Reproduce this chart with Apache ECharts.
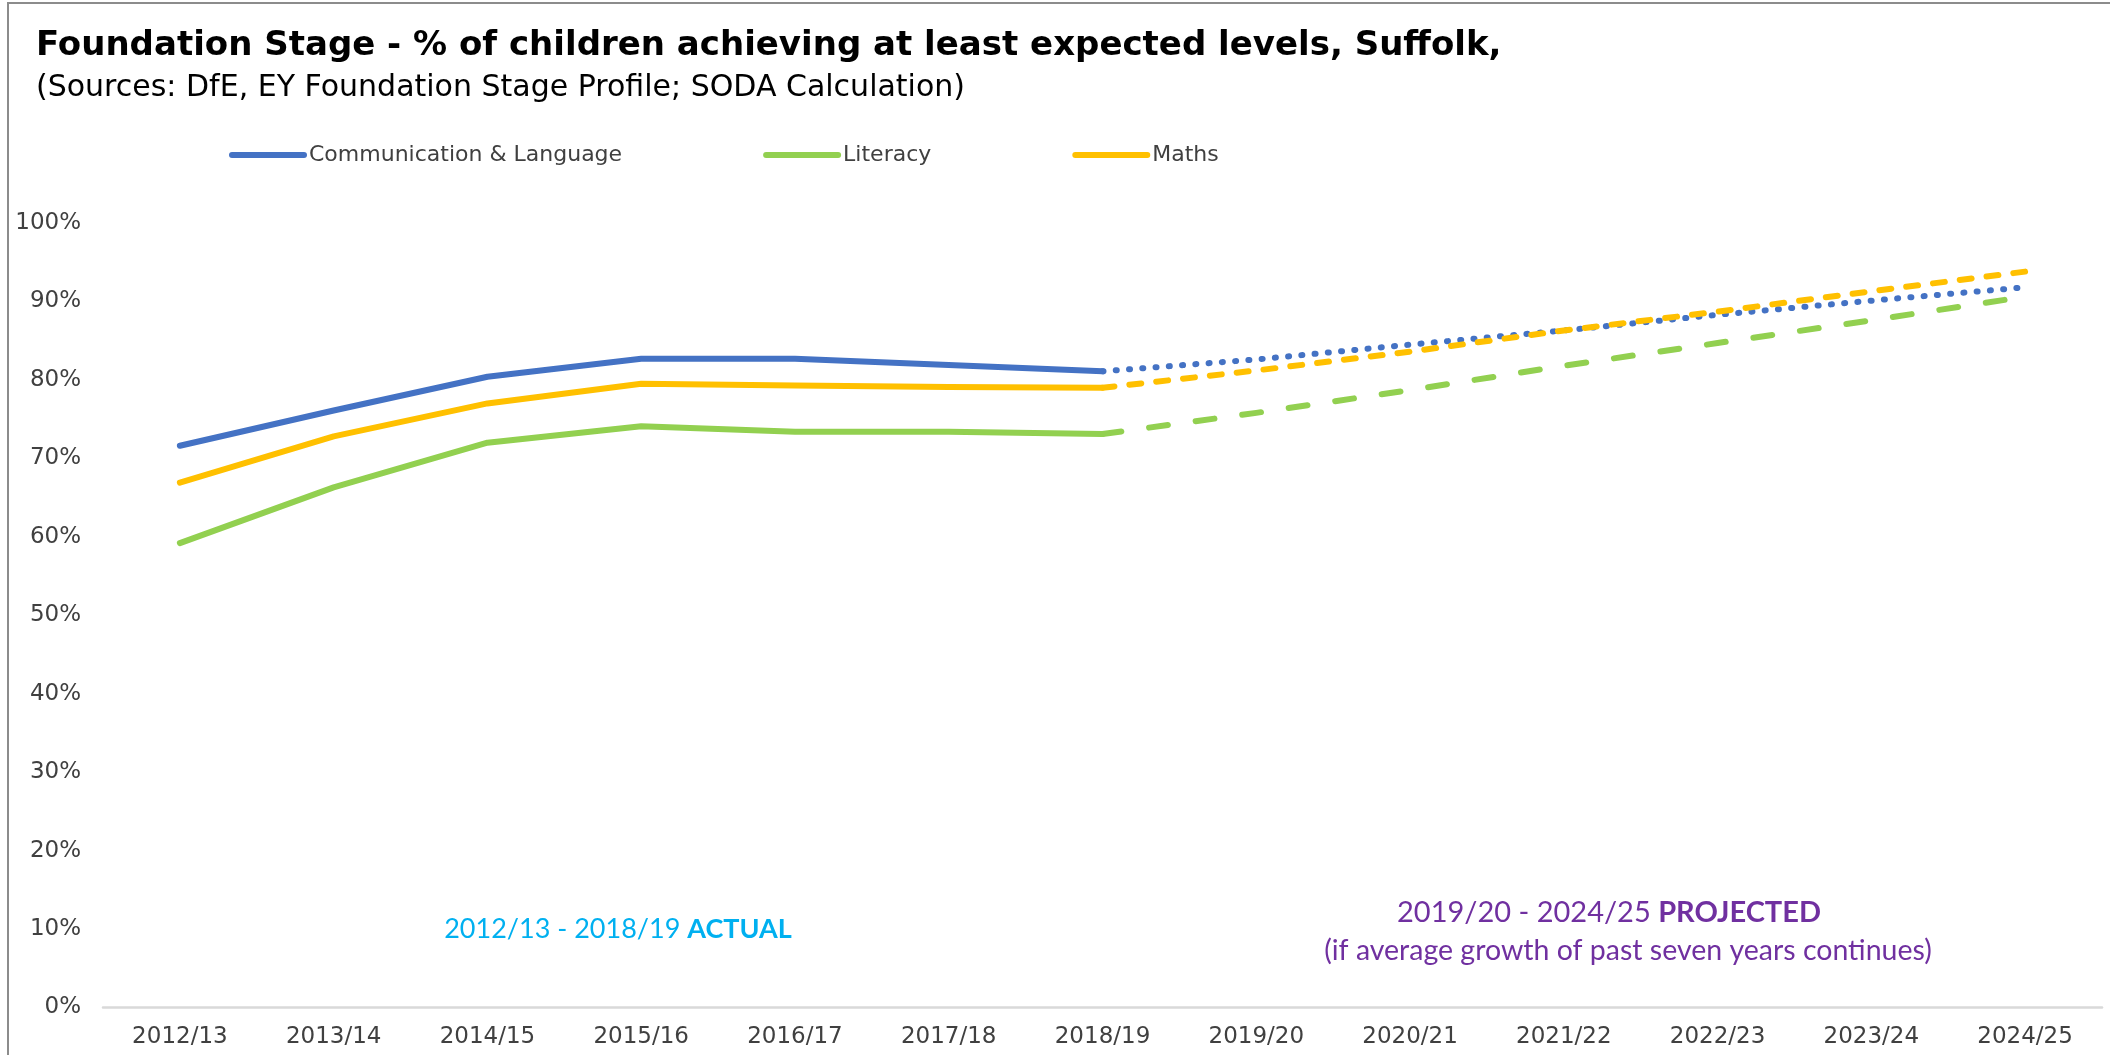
<!DOCTYPE html>
<html>
<head>
<meta charset="utf-8">
<title>Foundation Stage - Suffolk</title>
<script src="https://cdn.jsdelivr.net/npm/echarts@6/dist/echarts.min.js"></script>
<style>
  html, body { margin: 0; padding: 0; background: #ffffff; }
  #chart { width: 2110px; height: 1055px; }
</style>
</head>
<body>
<div id="chart"></div>
<script>
// School years on the category axis
const years = ['2012/13', '2013/14', '2014/15', '2015/16', '2016/17', '2017/18', '2018/19',
               '2019/20', '2020/21', '2021/22', '2022/23', '2023/24', '2024/25'];

// % of children achieving at least expected levels, actual results 2012/13 - 2018/19
const commActual  = [71.6, 76.1, 80.4, 82.7, 82.7, 81.9, 81.1];
const litActual   = [59.2, 66.3, 72.0, 74.1, 73.4, 73.4, 73.1];
const mathsActual = [66.9, 72.8, 77.0, 79.5, 79.3, 79.1, 79.0];

// Projected values 2019/20 - 2024/25
const commProjected  = [82.6, 84.5, 86.3, 88.3, 90.1, 91.8];
const litProjected   = [75.8, 78.7, 81.8, 84.7, 87.6, 90.6];
const mathsProjected = [81.2, 83.6, 86.3, 88.7, 91.3, 93.8];

// Y axis ticks
const yMin = 0, yMax = 100, yStep = 10;

const COLORS = { comm: '#4472C4', lit: '#92D050', maths: '#FFC000' };
const AXIS_FONT = 'Verdana, "DejaVu Sans", sans-serif';
const NOTE_FONT = 'Lato, "Open Sans", sans-serif';
const ACTUAL_COLOR = '#00B0F0';
const PROJECTED_COLOR = '#7030A0';

// Actual series: values then gaps; projected series: gaps, then joins at the last actual year
function actualData(vals) {
  return years.map((_, i) => (i < vals.length ? vals[i] : null));
}
function projectedData(actual, proj) {
  const out = years.map(() => null);
  out[actual.length - 1] = actual[actual.length - 1];
  proj.forEach((v, j) => { out[actual.length + j] = v; });
  return out;
}

function solid(name, color, vals) {
  return {
    name, type: 'line', data: actualData(vals), symbol: 'none', smooth: false,
    lineStyle: { color, width: 6, cap: 'round', join: 'round' },
    itemStyle: { color }, z: 3
  };
}
function projected(name, color, actual, proj, dash, z) {
  return {
    name, type: 'line', data: projectedData(actual, proj), symbol: 'none', smooth: false,
    lineStyle: { color, width: 6, type: dash, cap: 'round', join: 'round' },
    itemStyle: { color }, z
  };
}

const chart = echarts.init(document.getElementById('chart'), null, { renderer: 'canvas' });

chart.setOption({
  backgroundColor: '#ffffff',
  animation: false,
  title: [
    {
      text: 'Foundation Stage - % of children achieving at least expected levels, Suffolk,',
      left: 36, top: 29, padding: 0,
      textStyle: { fontFamily: AXIS_FONT, fontSize: 34, fontWeight: 'bold', color: '#000000' }
    },
    {
      text: '(Sources: DfE, EY Foundation Stage Profile; SODA Calculation)',
      left: 36, top: 73, padding: 0,
      textStyle: { fontFamily: AXIS_FONT, fontSize: 30, fontWeight: 'normal', color: '#000000' }
    }
  ],
  legend: {
    data: ['Communication & Language', 'Literacy', 'Maths'],
    left: 229, top: 144, padding: 0,
    itemWidth: 72, itemHeight: 4, itemGap: 141,
    lineStyle: { width: 6, cap: 'round' },
    textStyle: { fontFamily: AXIS_FONT, fontSize: 22, color: '#404040' }
  },
  grid: { left: 103, right: 8, top: 223, bottom: 47.5, containLabel: false },
  xAxis: {
    type: 'category',
    data: years,
    boundaryGap: true,
    axisLine: { show: true, lineStyle: { color: '#D9D9D9', width: 2.5 } },
    axisTick: { show: false },
    splitLine: { show: false },
    axisLabel: { fontFamily: AXIS_FONT, fontSize: 23, color: '#404040', margin: 18, interval: 0 }
  },
  yAxis: {
    type: 'value',
    min: yMin, max: yMax, interval: yStep,
    axisLine: { show: false },
    axisTick: { show: false },
    splitLine: { show: false },
    axisLabel: { fontFamily: AXIS_FONT, fontSize: 23, color: '#404040', margin: 22, formatter: '{value}%' }
  },
  series: [
    solid('Communication & Language', COLORS.comm, commActual),
    solid('Literacy', COLORS.lit, litActual),
    solid('Maths', COLORS.maths, mathsActual),
    projected('Communication & Language', COLORS.comm, commActual, commProjected, [1, 12.3], 2),
    projected('Literacy', COLORS.lit, litActual, litProjected, [19, 28], 2),
    projected('Maths', COLORS.maths, mathsActual, mathsProjected, [12, 15], 4)
  ],
  graphic: [
    {
      type: 'rect', silent: true, z: -1,
      shape: { x: 8, y: 3, width: 2130, height: 1080 },
      style: { fill: null, stroke: '#8C8C8C', lineWidth: 2 }
    },
    {
      type: 'text', silent: true,
      x: 618, y: 929,
      style: {
        text: '{n|2012/13 - 2018/19 }{b|ACTUAL}',
        align: 'center', verticalAlign: 'middle',
        fill: ACTUAL_COLOR,
        rich: {
          n: { fontFamily: NOTE_FONT, fontSize: 27, fill: ACTUAL_COLOR },
          b: { fontFamily: NOTE_FONT, fontSize: 27, fontWeight: 'bold', fill: ACTUAL_COLOR }
        }
      }
    },
    {
      type: 'text', silent: true,
      x: 1609, y: 913,
      style: {
        text: '{n|2019/20 - 2024/25 }{b|PROJECTED}',
        align: 'center', verticalAlign: 'middle',
        fill: PROJECTED_COLOR,
        rich: {
          n: { fontFamily: NOTE_FONT, fontSize: 29, fill: PROJECTED_COLOR },
          b: { fontFamily: NOTE_FONT, fontSize: 29, fontWeight: 'bold', fill: PROJECTED_COLOR }
        }
      }
    },
    {
      type: 'text', silent: true,
      x: 1628, y: 951,
      style: {
        text: '(if average growth of past seven years continues)',
        align: 'center', verticalAlign: 'middle',
        font: '28.5px ' + NOTE_FONT,
        fill: PROJECTED_COLOR
      }
    }
  ]
});
</script>
</body>
</html>
